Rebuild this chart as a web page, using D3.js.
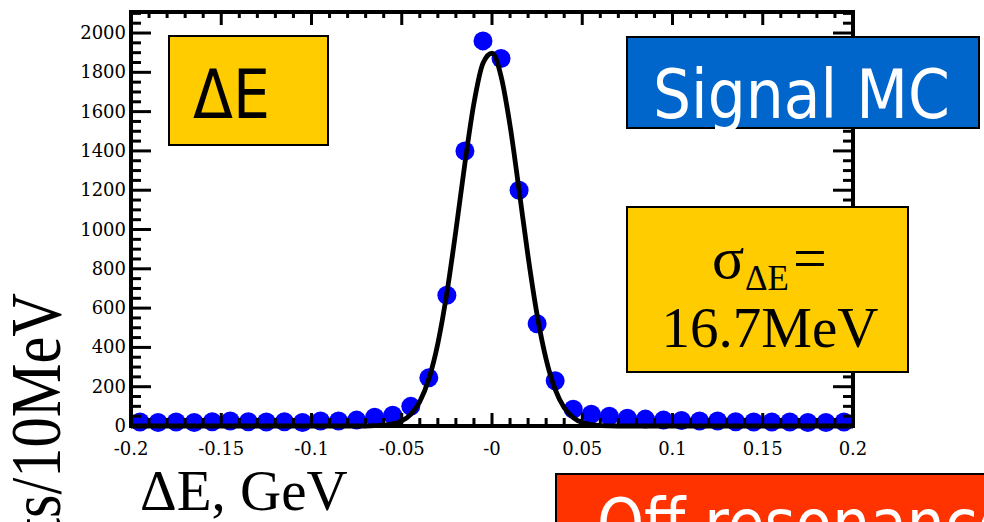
<!DOCTYPE html>
<html>
<head>
<meta charset="utf-8">
<script src="https://cdn.jsdelivr.net/npm/d3@7"></script>
<style>
  html, body { margin: 0; padding: 0; background: #fff; overflow: hidden; }
  svg { display: block; }
</style>
</head>
<body>
<svg id="chart" width="984" height="522"></svg>
<script>
// ---------- data ----------
const binCenters = [
  -0.195, -0.185, -0.175, -0.165, -0.155, -0.145, -0.135, -0.125, -0.115, -0.105,
  -0.095, -0.085, -0.075, -0.065, -0.055, -0.045, -0.035, -0.025, -0.015, -0.005,
   0.005,  0.015,  0.025,  0.035,  0.045,  0.055,  0.065,  0.075,  0.085,  0.095,
   0.105,  0.115,  0.125,  0.135,  0.145,  0.155,  0.165,  0.175,  0.185,  0.195
];
const binCounts = [
  20, 18, 20, 18, 22, 25, 22, 20, 22, 18,
  25, 25, 30, 45, 55, 100, 245, 665, 1400, 1960,
  1870, 1200, 520, 230, 85, 60, 50, 40, 35, 30,
  28, 25, 25, 22, 20, 20, 20, 18, 18, 20
];
// fitted curve
const fitX = [-0.2, -0.07, -0.06, -0.05, -0.045, -0.04, -0.035, -0.03, -0.025, -0.02, -0.015, -0.01, -0.005, 0,
               0.005, 0.01, 0.015, 0.02, 0.025, 0.03, 0.035, 0.04, 0.045, 0.05, 0.06, 0.07, 0.2];
const fitY = [0, 0, 4, 26, 59, 124, 239, 420, 677, 995, 1337, 1643, 1846, 1897,
              1781, 1529, 1201, 862, 565, 339, 186, 93, 43, 18, 2, 0, 0];

const xTickValues = [-0.2, -0.15, -0.1, -0.05, 0, 0.05, 0.1, 0.15, 0.2];
const xTickLabels = ["-0.2", "-0.15", "-0.1", "-0.05", "-0", "0.05", "0.1", "0.15", "0.2"];
const yTickValues = [0, 200, 400, 600, 800, 1000, 1200, 1400, 1600, 1800, 2000];
const yTickLabels = ["0", "200", "400", "600", "800", "1000", "1200", "1400", "1600", "1800", "2000"];

// ---------- layout ----------
const svg = d3.select("#chart");
const L = 131, R = 853, T = 12, B = 426;
const x = d3.scaleLinear().domain([-0.2, 0.2]).range([L, R]);
const y = d3.scaleLinear().domain([0, 2107]).range([B, T]);

// points
svg.append("g").selectAll("circle")
  .data(binCenters.map((c, i) => [c, binCounts[i]]))
  .join("circle")
  .attr("cx", d => x(d[0]))
  .attr("cy", d => y(d[1]))
  .attr("r", 9.5)
  .attr("fill", "#0000ff");

// fit curve
const line = d3.line().x(d => x(d[0])).y(d => y(d[1])).curve(d3.curveMonotoneX);
svg.append("path")
  .datum(fitX.map((v, i) => [v, fitY[i]]))
  .attr("d", line)
  .attr("fill", "none")
  .attr("stroke", "#000")
  .attr("stroke-width", 4.8)
  .attr("stroke-linejoin", "round");

// axes frame + ticks
const ax = svg.append("g").attr("stroke", "#000");
const xMinor = d3.range(-20, 21).map(k => k / 100);
const yMinor = d3.range(0, 2101, 50);
const isMajorX = v => xTickValues.some(t => Math.abs(t - v) < 1e-9);
const isMajorY = v => v % 200 === 0;

ax.selectAll(".xb").data(xMinor).join("line")
  .attr("x1", d => x(d)).attr("x2", d => x(d))
  .attr("y1", B).attr("y2", d => B - (isMajorX(d) ? 13 : 8))
  .attr("stroke-width", 3);
ax.selectAll(".xt").data(xMinor).join("line")
  .attr("x1", d => x(d)).attr("x2", d => x(d))
  .attr("y1", T).attr("y2", d => T + (isMajorX(d) ? 13 : 6))
  .attr("stroke-width", 3);
ax.selectAll(".yl").data(yMinor).join("line")
  .attr("y1", d => y(d)).attr("y2", d => y(d))
  .attr("x1", L).attr("x2", d => L + (isMajorY(d) ? 20 : 10))
  .attr("stroke-width", 3);
ax.selectAll(".yr").data(yMinor).join("line")
  .attr("y1", d => y(d)).attr("y2", d => y(d))
  .attr("x1", R).attr("x2", d => R - (isMajorY(d) ? 20 : 10))
  .attr("stroke-width", 3);
ax.append("rect")
  .attr("x", L).attr("y", T).attr("width", R - L).attr("height", B - T)
  .attr("fill", "none").attr("stroke-width", 4);

// tick labels
const tickFont = "'DejaVu Serif', serif";
svg.append("g").selectAll("text").data(xTickValues).join("text")
  .attr("x", d => x(d)).attr("y", 455)
  .attr("text-anchor", "middle")
  .attr("font-family", tickFont).attr("font-size", 18)
  .text((d, i) => xTickLabels[i]);
svg.append("g").selectAll("text").data(yTickValues).join("text")
  .attr("x", 126).attr("y", d => y(d) + 6)
  .attr("text-anchor", "end")
  .attr("font-family", tickFont).attr("font-size", 18)
  .text((d, i) => yTickLabels[i]);

// axis titles
const serif = "'Liberation Serif', 'Times New Roman', serif";
svg.append("text")
  .attr("x", 140).attr("y", 510)
  .attr("font-family", serif)
  .attr("font-size", 57)
  .text("ΔE, GeV");
svg.append("text")
  .attr("transform", "translate(60,293) rotate(-90) scale(0.84,1)")
  .attr("text-anchor", "end")
  .attr("font-family", serif)
  .attr("font-size", 72)
  .text("Events/10MeV");

// boxes
const sans = "'DejaVu Sans', sans-serif";
function box(x0, y0, w, h, fill) {
  svg.append("rect").attr("x", x0).attr("y", y0).attr("width", w).attr("height", h)
    .attr("fill", fill).attr("stroke", "#000").attr("stroke-width", 2);
}
box(169, 36, 159, 109, "#ffcc00");
svg.append("text").attr("x", 193).attr("y", 118)
  .attr("font-family", sans).attr("font-size", 68)
  .attr("textLength", 77).attr("lengthAdjust", "spacingAndGlyphs")
  .text("ΔE");

box(627, 37, 352, 91, "#0066cc");
svg.append("text").attr("x", 653).attr("y", 118)
  .attr("font-family", sans).attr("font-size", 68).attr("fill", "#fff")
  .attr("textLength", 297).attr("lengthAdjust", "spacingAndGlyphs")
  .text("Signal MC");

box(627, 207, 281, 165, "#ffcc00");
svg.append("text").attr("x", 712).attr("y", 278)
  .attr("font-family", serif).attr("font-size", 60).text("σ");
svg.append("text").attr("x", 745).attr("y", 290)
  .attr("font-family", serif).attr("font-size", 35).text("ΔE");
svg.append("text").attr("x", 793).attr("y", 278)
  .attr("font-family", serif).attr("font-size", 60).text("=");
svg.append("text").attr("x", 770).attr("y", 347)
  .attr("text-anchor", "middle")
  .attr("font-family", serif).attr("font-size", 57).text("16.7MeV");

box(556, 474, 500, 100, "#ff3300");
svg.append("text")
  .attr("transform", "translate(597,547) scale(0.88,1)")
  .attr("font-family", sans).attr("font-size", 68).attr("fill", "#fff")
  .text("Off resonance");
</script>
</body>
</html>
